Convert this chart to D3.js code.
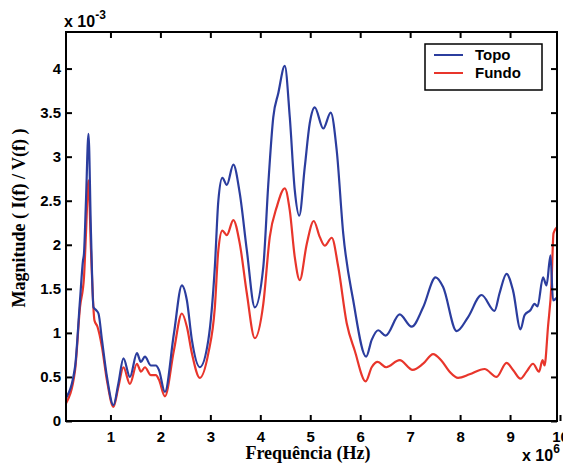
<!DOCTYPE html>
<html>
<head>
<meta charset="utf-8">
<script src="https://cdnjs.cloudflare.com/ajax/libs/d3/7.8.5/d3.min.js"></script>
<style>
  body { margin: 0; background: #fff; }
  .tick text { font-family: "Liberation Sans", Arial, sans-serif; font-weight: bold; font-size: 15px; }
</style>
</head>
<body>
<script>
// frequency (x 10^6 Hz) and magnitude (x 10^-3)
var topoX = [0.11, 0.29, 0.39, 0.45, 0.47, 0.51, 0.56, 0.61, 0.66, 0.71, 0.76, 0.83, 0.93, 1.06, 1.16, 1.26, 1.39, 1.53, 1.61, 1.69, 1.81, 1.91, 1.97, 2.09, 2.27, 2.43, 2.53, 2.63, 2.79, 2.96, 3.09, 3.16, 3.24, 3.33, 3.46, 3.59, 3.73, 3.89, 4.06, 4.16, 4.26, 4.36, 4.49, 4.59, 4.69, 4.78, 4.89, 4.99, 5.09, 5.26, 5.41, 5.53, 5.66, 5.86, 6.12, 6.23, 6.36, 6.51, 6.79, 7.03, 7.26, 7.51, 7.66, 7.93, 8.16, 8.43, 8.69, 8.79, 8.93, 9.06, 9.21, 9.29, 9.41, 9.49, 9.55, 9.66, 9.73, 9.81, 9.86, 9.94];
var topoY = [0.26, 0.61, 1.37, 1.82, 1.90, 2.50, 3.26, 2.13, 1.29, 1.26, 1.22, 0.92, 0.50, 0.18, 0.43, 0.71, 0.50, 0.77, 0.67, 0.73, 0.63, 0.63, 0.58, 0.33, 0.99, 1.54, 1.37, 0.92, 0.61, 0.92, 1.75, 2.50, 2.76, 2.68, 2.91, 2.58, 1.94, 1.29, 1.75, 2.69, 3.45, 3.72, 4.03, 3.45, 2.62, 2.33, 2.88, 3.38, 3.56, 3.32, 3.50, 3.07, 2.13, 1.37, 0.73, 0.92, 1.03, 0.97, 1.21, 1.07, 1.29, 1.63, 1.52, 1.02, 1.18, 1.43, 1.25, 1.45, 1.67, 1.48, 1.04, 1.20, 1.26, 1.33, 1.30, 1.63, 1.54, 1.88, 1.37, 1.40];

var fundoX = [0.11, 0.29, 0.39, 0.47, 0.51, 0.56, 0.61, 0.68, 0.74, 0.83, 0.93, 1.06, 1.16, 1.26, 1.39, 1.53, 1.61, 1.69, 1.81, 1.91, 1.97, 2.09, 2.27, 2.43, 2.53, 2.63, 2.79, 2.96, 3.09, 3.16, 3.24, 3.33, 3.46, 3.59, 3.73, 3.89, 4.06, 4.19, 4.33, 4.49, 4.59, 4.69, 4.79, 4.93, 5.07, 5.19, 5.29, 5.43, 5.56, 5.73, 5.89, 6.11, 6.23, 6.35, 6.52, 6.79, 7.05, 7.26, 7.46, 7.62, 7.79, 7.96, 8.19, 8.49, 8.73, 8.93, 9.06, 9.21, 9.33, 9.46, 9.58, 9.65, 9.69, 9.76, 9.83, 9.87, 9.94];
var fundoY = [0.20, 0.57, 1.29, 1.63, 2.13, 2.73, 1.94, 1.14, 1.07, 0.84, 0.46, 0.16, 0.39, 0.61, 0.42, 0.65, 0.56, 0.61, 0.52, 0.52, 0.47, 0.28, 0.80, 1.22, 1.07, 0.77, 0.49, 0.77, 1.29, 1.94, 2.16, 2.11, 2.28, 2.01, 1.45, 0.94, 1.33, 2.09, 2.43, 2.64, 2.39, 1.86, 1.60, 2.01, 2.27, 2.09, 1.99, 2.08, 1.75, 1.11, 0.80, 0.45, 0.61, 0.67, 0.61, 0.69, 0.58, 0.65, 0.76, 0.69, 0.56, 0.49, 0.53, 0.59, 0.50, 0.66, 0.58, 0.48, 0.56, 0.65, 0.56, 0.69, 0.63, 1.07, 1.56, 2.13, 2.20];

var xTicks = [1, 2, 3, 4, 5, 6, 7, 8, 9, 10];
var yTicks = [0, 0.5, 1, 1.5, 2, 2.5, 3, 3.5, 4];
var seriesNames = ["Topo", "Fundo"];
var seriesColors = ["#2b3d9e", "#e8352b"];

var width = 563, height = 465;
var margin = { left: 66, right: 557, top: 32, bottom: 421 };

var x = d3.scaleLinear().domain([0.11, 9.94]).range([margin.left, margin.right]);
var y = d3.scaleLinear().domain([0, 4.415]).range([margin.bottom, margin.top]);

var svg = d3.select("body").append("svg")
    .attr("width", width)
    .attr("height", height);

svg.append("defs").append("clipPath").attr("id", "clip")
  .append("rect")
    .attr("x", margin.left).attr("y", margin.top)
    .attr("width", margin.right - margin.left).attr("height", margin.bottom - margin.top);

var line = d3.line()
    .x(function(d) { return x(d[0]); })
    .y(function(d) { return y(d[1]); })
    .curve(d3.curveMonotoneX);

var series = [
  d3.zip(topoX, topoY),
  d3.zip(fundoX, fundoY)
];

// draw Fundo first so Topo sits on top
[1, 0].forEach(function(i) {
  svg.append("path")
    .attr("clip-path", "url(#clip)")
    .attr("d", line(series[i]))
    .attr("fill", "none")
    .attr("stroke", seriesColors[i])
    .attr("stroke-width", 2.2);
});

// axes, ticks pointing inward
var tickLen = 6;
var xAxis = svg.append("g").attr("transform", "translate(0," + margin.bottom + ")")
    .call(d3.axisBottom(x).tickValues(xTicks).tickSizeInner(-tickLen).tickSizeOuter(0).tickPadding(10).tickFormat(d3.format("d")));
var xTop = svg.append("g").attr("transform", "translate(0," + margin.top + ")")
    .call(d3.axisTop(x).tickValues(xTicks.slice(0, 9)).tickSizeInner(-tickLen).tickSizeOuter(0).tickFormat(""));
var yAxis = svg.append("g").attr("transform", "translate(" + margin.left + ",0)")
    .call(d3.axisLeft(y).tickValues(yTicks).tickSizeInner(-tickLen).tickSizeOuter(0).tickPadding(5).tickFormat(function(d) { return d; }));
var yRight = svg.append("g").attr("transform", "translate(" + margin.right + ",0)")
    .call(d3.axisRight(y).tickValues(yTicks).tickSizeInner(-tickLen).tickSizeOuter(0).tickFormat(""));

[xAxis, xTop, yAxis, yRight].forEach(function(g) {
  g.select(".domain").remove();
  g.selectAll(".tick line").attr("stroke", "#000").attr("stroke-width", 2);
  g.selectAll(".tick text").attr("fill", "#000");
});
xAxis.selectAll(".tick text").attr("dy", "0.71em");

svg.append("rect")
    .attr("x", margin.left).attr("y", margin.top)
    .attr("width", margin.right - margin.left).attr("height", margin.bottom - margin.top)
    .attr("fill", "none")
    .attr("stroke", "#000")
    .attr("stroke-width", 2);

// exponent labels
var sans = '"Liberation Sans", Arial, sans-serif';
var t1 = svg.append("text").attr("x", 64).attr("y", 27)
    .style("font-family", sans).style("font-weight", "bold").style("font-size", "16px");
t1.append("tspan").text("x 10");
t1.append("tspan").attr("dy", -8).style("font-size", "12px").text("-3");

var t2 = svg.append("text").attr("x", 522).attr("y", 461)
    .style("font-family", sans).style("font-weight", "bold").style("font-size", "16px");
t2.append("tspan").text("x 10");
t2.append("tspan").attr("dy", -8).style("font-size", "12px").text("6");

// axis titles
var serif = '"Liberation Serif", "Times New Roman", serif';
svg.append("text")
    .attr("x", 308).attr("y", 459)
    .attr("text-anchor", "middle")
    .style("font-family", serif).style("font-weight", "bold").style("font-size", "18px")
    .text("Frequência (Hz)");

svg.append("text")
    .attr("transform", "translate(25,218) rotate(-90)")
    .attr("text-anchor", "middle")
    .style("font-family", serif).style("font-weight", "bold").style("font-size", "18px")
    .text("Magnitude ( I(f) / V(f) )");

// legend
var legend = svg.append("g");
legend.append("rect")
    .attr("x", 425).attr("y", 44)
    .attr("width", 117).attr("height", 46)
    .attr("fill", "#fff")
    .attr("stroke", "#000")
    .attr("stroke-width", 1.5);

seriesNames.forEach(function(name, i) {
  var ly = 55 + i * 18;
  legend.append("line")
    .attr("x1", 434).attr("x2", 463)
    .attr("y1", ly).attr("y2", ly)
    .attr("stroke", seriesColors[i])
    .attr("stroke-width", 2);
  legend.append("text")
    .attr("x", 475).attr("y", ly + 5)
    .style("font-family", sans).style("font-weight", "bold").style("font-size", "15px")
    .text(name);
});
</script>
</body>
</html>
